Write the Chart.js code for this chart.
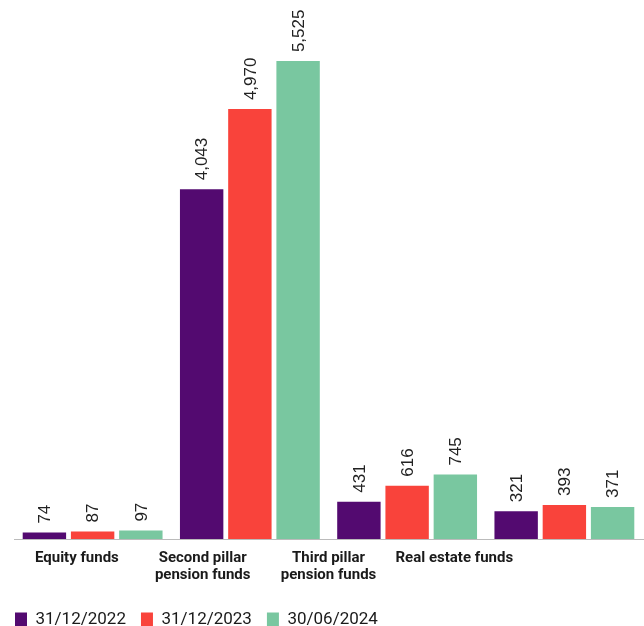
<!DOCTYPE html>
<html>
<head>
<meta charset="utf-8">
<script src="https://cdn.jsdelivr.net/npm/chart.js@4"></script>
<style>
  html, body { margin: 0; padding: 0; background: #fff; }
  #wrap { width: 644px; height: 626px; }
</style>
</head>
<body>
<div id="wrap"><canvas id="myChart"></canvas></div>
<script>
// Categories and series
const categories = [['Equity funds'], ['Second pillar', 'pension funds'], ['Third pillar', 'pension funds'], ['Real estate funds']]
// the original lays its axis labels out on a five-slot grid (last slot empty)
const labelSlots = [...categories, '']
const seriesNames = ['31/12/2022', '31/12/2023', '30/06/2024']
const values2022 = [74, 4043, 431, 321]
const values2023 = [87, 4970, 616, 393]
const values2024 = [97, 5525, 745, 371]
const seriesColors = ['#530a70', '#f9433b', '#79c7a0']

// draws the rotated value labels above each bar
const valueLabels = {
  id: 'valueLabels',
  afterDatasetsDraw(chart) {
    const ctx = chart.ctx
    chart.data.datasets.forEach((ds, i) => {
      const meta = chart.getDatasetMeta(i)
      meta.data.forEach((bar, j) => {
        ctx.save()
        ctx.translate(bar.x, bar.y - 9)
        ctx.rotate(-Math.PI / 2)
        ctx.font = '17px "Liberation Sans", Arial, sans-serif'
        ctx.fillStyle = '#222'
        ctx.textAlign = 'left'
        ctx.textBaseline = 'middle'
        ctx.fillText(ds.data[j].toLocaleString('en-US'), 0, 1)
        ctx.restore()
      })
    })
  }
}

const ctx = document.getElementById('myChart')

new Chart(ctx, {
  type: 'bar',
  data: {
    labels: categories,
    datasets: [
      { label: seriesNames[0], data: values2022, backgroundColor: seriesColors[0] },
      { label: seriesNames[1], data: values2023, backgroundColor: seriesColors[1] },
      { label: seriesNames[2], data: values2024, backgroundColor: seriesColors[2] }
    ]
  },
  options: {
    responsive: true,
    maintainAspectRatio: false,
    animation: false,
    layout: { padding: { left: 0, right: 1, top: 20, bottom: -12 } },
    datasets: {
      bar: { categoryPercentage: 0.92, barPercentage: 0.9 }
    },
    scales: {
      x: {
        grid: { display: false },
        border: { display: true, color: '#bbbbbb', width: 1 },
        ticks: { display: false },
        afterFit: (scale) => { scale.height = 1 }
      },
      xLabels: {
        type: 'category',
        position: 'bottom',
        labels: labelSlots,
        offset: true,
        grid: { display: false },
        border: { display: false },
        ticks: {
          color: '#1a1a1a',
          padding: 2,
          maxRotation: 0,
          autoSkip: false,
          font: { family: 'Roboto, sans-serif', size: 15, weight: 'bold', lineHeight: 1.1 }
        },
        afterFit: (scale) => { scale.height = 56 }
      },
      y: {
        display: true,
        min: 0,
        max: 6000,
        grid: { display: false },
        border: { display: false },
        ticks: { display: false },
        afterFit: (scale) => { scale.width = 14 }
      }
    },
    plugins: {
      tooltip: { enabled: false },
      legend: {
        position: 'bottom',
        align: 'start',
        labels: {
          boxWidth: 12,
          boxHeight: 14,
          padding: 15,
          color: '#1a1a1a',
          font: { family: 'Roboto, sans-serif', size: 17 }
        }
      }
    }
  },
  plugins: [valueLabels]
})
</script>
</body>
</html>
